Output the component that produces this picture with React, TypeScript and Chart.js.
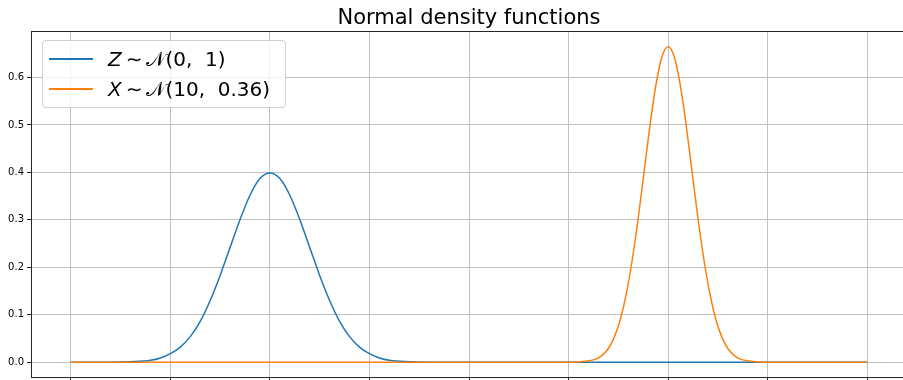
import React, { useEffect, useRef } from "react";
import { Chart, registerables } from "chart.js";

Chart.register(...registerables);

const TITLE = "Normal density functions";

// Z ~ N(0, 1): x positions and densities
const zXs = [-5, -4, -3.5, -3, -2.75, -2.5, -2.25, -2, -1.75, -1.5, -1.25, -1, -0.75, -0.5, -0.25, 0,
  0.25, 0.5, 0.75, 1, 1.25, 1.5, 1.75, 2, 2.25, 2.5, 2.75, 3, 3.5, 4, 5, 15];
const zYs = [0, 0, 0.001, 0.004, 0.009, 0.018, 0.032, 0.054, 0.086, 0.13, 0.183, 0.242, 0.301, 0.352, 0.387, 0.399,
  0.387, 0.352, 0.301, 0.242, 0.183, 0.13, 0.086, 0.054, 0.032, 0.018, 0.009, 0.004, 0.001, 0, 0, 0];

// X ~ N(10, 0.36)
const xXs = [-5, 7, 7.6, 7.9, 8.2, 8.35, 8.5, 8.65, 8.8, 8.95, 9.1, 9.25, 9.4, 9.55, 9.7, 9.85, 10,
  10.15, 10.3, 10.45, 10.6, 10.75, 10.9, 11.05, 11.2, 11.35, 11.5, 11.65, 11.8, 12.1, 12.4, 13, 15];
const xYs = [0, 0, 0, 0.002, 0.007, 0.015, 0.029, 0.053, 0.09, 0.144, 0.216, 0.304, 0.403, 0.502, 0.587, 0.645, 0.665,
  0.645, 0.587, 0.502, 0.403, 0.304, 0.216, 0.144, 0.09, 0.053, 0.029, 0.015, 0.007, 0.002, 0, 0, 0];

const xGridValues = [-5, -2.5, 0, 2.5, 5, 7.5, 10, 12.5, 15];
const yTickValues = [0, 0.1, 0.2, 0.3, 0.4, 0.5, 0.6];

const BLUE = "#1f77b4";
const ORANGE = "#ff7f0e";
const GRID = "#c0c0c0";
const SPINE = "#262626";
const FONT = "'DejaVu Sans', sans-serif";

export default function App() {
  const ref = useRef<HTMLCanvasElement>(null);

  useEffect(() => {
    if (!ref.current) return;
    const frame = {
      id: "frame",
      afterDraw(chart: any) {
        const { ctx, chartArea } = chart;
        ctx.save();
        ctx.strokeStyle = SPINE;
        ctx.lineWidth = 1;
        const l = Math.round(chartArea.left) + 0.5;
        const t = Math.round(chartArea.top) + 0.5;
        const r = Math.round(chartArea.right) - 0.5;
        const b = Math.round(chartArea.bottom) - 0.5;
        ctx.strokeRect(l, t, r - l, b - t);
        ctx.fillStyle = "#000";
        ctx.font = `21px ${FONT}`;
        ctx.textAlign = "center";
        ctx.textBaseline = "alphabetic";
        ctx.fillText(TITLE, (chartArea.left + chartArea.right) / 2, 24);
        ctx.restore();
      },
    };
    const chart = new Chart(ref.current, {
      type: "line",
      data: {
        datasets: [
          {
            label: "Z ~ N(0, 1)",
            data: zXs.map((x, i) => ({ x, y: zYs[i] })),
            borderColor: BLUE,
            borderWidth: 1.5,
            pointRadius: 0,
            cubicInterpolationMode: "monotone",
            order: 1,
          },
          {
            label: "X ~ N(10, 0.36)",
            data: xXs.map((x, i) => ({ x, y: xYs[i] })),
            borderColor: ORANGE,
            borderWidth: 1.5,
            pointRadius: 0,
            cubicInterpolationMode: "monotone",
            order: 0,
          },
        ],
      },
      options: {
        responsive: false,
        animation: false,
        layout: { padding: { top: 31, right: 3, left: 0, bottom: 0 } },
        plugins: {
          legend: { display: false },
          title: { display: false },
          tooltip: { enabled: false },
        },
        scales: {
          x: {
            type: "linear",
            min: -6,
            max: 16,
            afterBuildTicks: (s: any) => {
              s.ticks = xGridValues.map((v) => ({ value: v }));
            },
            afterFit: (s: any) => {
              s.height = 2;
              s.paddingLeft = 0;
              s.paddingRight = 0;
            },
            ticks: { display: false },
            grid: { color: GRID, lineWidth: 1, drawTicks: true, tickLength: 4, tickColor: SPINE },
            border: { display: false },
          },
          y: {
            type: "linear",
            min: -0.0332,
            max: 0.6981,
            afterBuildTicks: (s: any) => {
              s.ticks = yTickValues.map((v) => ({ value: v }));
            },
            afterFit: (s: any) => {
              s.width = 31;
              s.paddingTop = 0;
              s.paddingBottom = 0;
            },
            ticks: {
              callback: (v: any) => Number(v).toFixed(1),
              font: { family: FONT, size: 10 },
              color: "#000",
              padding: 3,
            },
            grid: { color: GRID, lineWidth: 1, drawTicks: true, tickLength: 4, tickColor: SPINE },
            border: { display: false },
          },
        },
      },
      plugins: [frame],
    });
    return () => chart.destroy();
  }, []);

  const row = (color: string, content: React.ReactNode, top: number) => (
    <div style={{ position: "absolute", left: 0, top, height: 28, display: "flex", alignItems: "center" }}>
      <div style={{ marginLeft: 6, width: 44, height: 2, background: color }} />
      <div style={{ marginLeft: 15, fontFamily: FONT, fontSize: 20, whiteSpace: "pre", color: "#000" }}>{content}</div>
    </div>
  );

  return (
    <div style={{ position: "fixed", left: 0, top: 0, width: 903, height: 380, overflow: "hidden", background: "#fff" }}>
      <canvas ref={ref} width={910} height={380} style={{ display: "block" }} />
      <div
        style={{
          position: "absolute",
          left: 42,
          top: 40,
          width: 244,
          height: 68,
          boxSizing: "border-box",
          border: "1px solid #d0d0d0",
          borderRadius: 4,
          background: "rgba(255,255,255,0.8)",
        }}
      >
        {row(BLUE, <><i>Z</i>{"\u2009∼\u2009"}𝒩(0,  1)</>, 4)}
        {row(ORANGE, <><i>X</i>{"\u2009∼\u2009"}𝒩(10,  0.36)</>, 34)}
      </div>
    </div>
  );
}
